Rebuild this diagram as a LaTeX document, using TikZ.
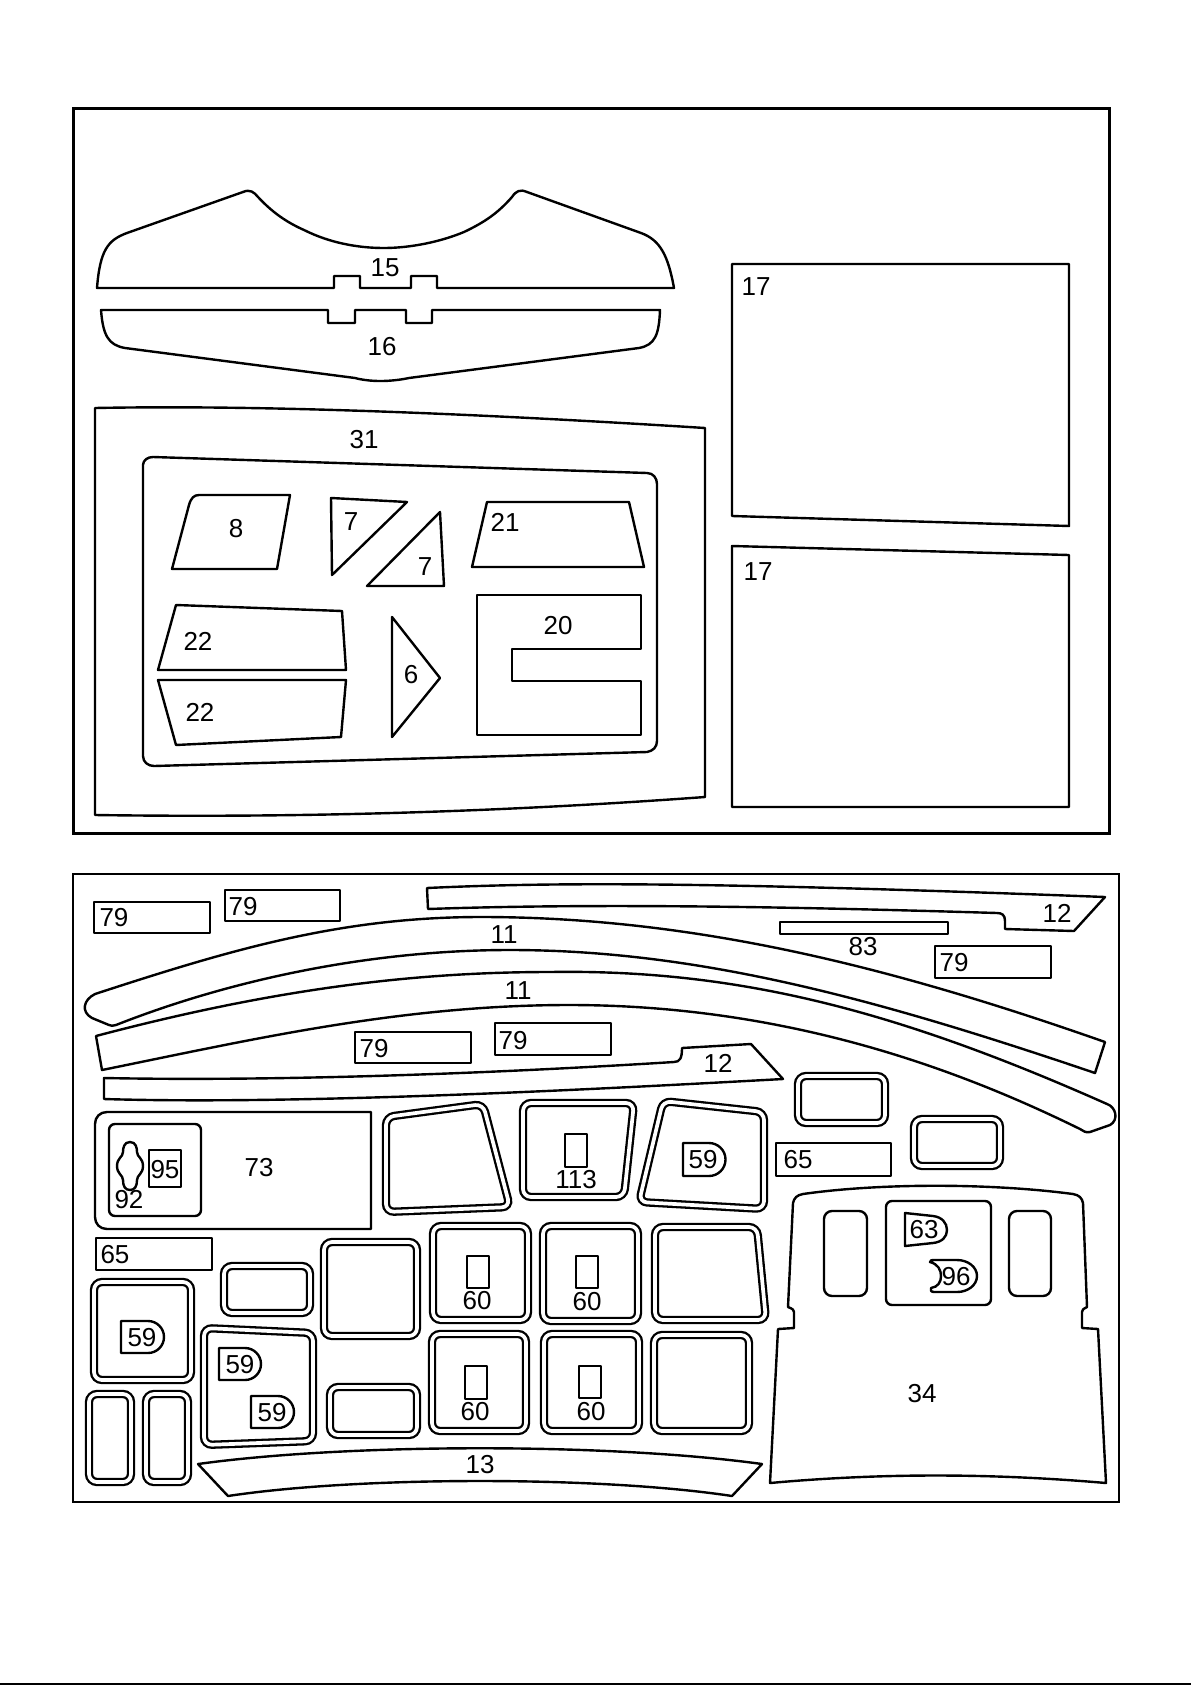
\documentclass[tikz,border=0pt]{standalone}
\usepackage{fontspec}
\setmainfont{Liberation Sans}
\begin{document}
\begin{tikzpicture}[x=0.5pt, y=-0.5pt,
    frameline/.style={draw=black, line width=1.5pt},
    partline/.style={draw=black, line width=1.2pt, line join=round},
    panel/.style={draw=black, line width=1.15pt, double=white, double distance=1.85pt, rounded corners=4pt},
    partlabel/.style={font=\fontsize{13}{13}\selectfont, inner sep=0pt, yshift=-0.5pt}]
    \useasboundingbox (0,0) rectangle (1191,1685);

    % Strip along the bottom edge
    \fill[black] (0,1683) rectangle (1191,1685);

    % Outer frames
    \draw[frameline] (73,109) rectangle (1109,833);
    \draw[frameline, line width=1.1pt] (73,874) rectangle (1119,1502);

    % Upper sheet: parts 15 and 16
    \draw[partline] (97,288) .. controls (100,250) and (108,240) .. (127,233) -- (243,192)
        .. controls (250,189) and (254,192) .. (258,197) .. controls (272,212) and (286,222) .. (304,230)
        .. controls (330,243) and (358,248) .. (384,248) .. controls (410,248) and (440,242) .. (464,232)
        .. controls (485,222) and (498,213) .. (512,197) .. controls (516,191) and (520,189) .. (527,192)
        -- (641,233) .. controls (660,240) and (668,255) .. (674,288)
        -- (437,288) -- (437,276) -- (411,276) -- (411,288) -- (360,288) -- (360,276) -- (334,276) -- (334,288) -- cycle;
    \node[partlabel] (part15) at (385,267) {15};
    \draw[partline] (101,310) -- (328,310) -- (328,323) -- (355,323) -- (355,310) -- (406,310) -- (406,323) -- (432,323) -- (432,310) -- (660,310)
        .. controls (659,335) and (655,345) .. (639,348) -- (409,378) .. controls (390,382) and (370,382) .. (355,378)
        -- (125,348) .. controls (108,345) and (103,335) .. (101,310) -- cycle;
    \node[partlabel] (part16) at (382,346) {16};

    % Parts 17
    \draw[partline] (732,264) -- (1069,264) -- (1069,526) -- (732,516) -- cycle;
    \node[partlabel] (part17a) at (756,286) {17};
    \draw[partline] (732,546) -- (1069,555) -- (1069,807) -- (732,807) -- cycle;
    \node[partlabel] (part17b) at (758,571) {17};

    % Part 31 with its cut-out
    \draw[partline] (95,408) .. controls (250,405) and (450,412) .. (705,428) -- (705,797)
        .. controls (500,812) and (300,818) .. (95,815) -- cycle;
    \node[partlabel] (part31) at (364,439) {31};
    \draw[partline] (153,457) -- (647,473) .. controls (653,473) and (657,478) .. (657,484) -- (657,741)
        .. controls (657,747) and (653,751) .. (647,752) -- (154,766) .. controls (148,766) and (143,762) .. (143,756)
        -- (143,465) .. controls (143,460) and (148,457) .. (153,457) -- cycle;

    % Parts inside 31
    \draw[partline] (199,495) -- (290,495) -- (277,569) -- (172,569) -- (189,505) .. controls (191,498) and (194,495) .. (199,495) -- cycle;
    \node[partlabel] (part8) at (236,528) {8};
    \draw[partline] (331,498) -- (407,502) -- (332,575) -- cycle;
    \node[partlabel] (part7a) at (351,521) {7};
    \draw[partline] (440,512) -- (444,586) -- (367,586) -- cycle;
    \node[partlabel] (part7b) at (425,566) {7};
    \draw[partline] (487,502) -- (629,502) -- (644,567) -- (472,567) -- cycle;
    \node[partlabel] (part21) at (505,521) {21};
    \draw[partline] (477,595) -- (641,595) -- (641,649) -- (512,649) -- (512,681) -- (641,681) -- (641,735) -- (477,735) -- cycle;
    \node[partlabel] (part20) at (558,625) {20};
    \draw[partline] (176,605) -- (342,611) -- (346,670) -- (158,670) -- cycle;
    \node[partlabel] (part22a) at (198,640) {22};
    \draw[partline] (158,680) -- (346,680) -- (341,737) -- (176,745) -- cycle;
    \node[partlabel] (part22b) at (200,711) {22};
    \draw[partline] (392,617) -- (440,678) -- (392,737) -- cycle;
    \node[partlabel] (part6) at (411,674) {6};

    % Lower sheet: small labels
    \draw[partline] (94,902) rectangle (210,933);
    \node[partlabel] (part79a) at (114,917) {79};
    \draw[partline] (225,890) rectangle (340,921);
    \node[partlabel] (part79b) at (243,906) {79};
    \draw[partline] (355,1032) rectangle (471,1063);
    \node[partlabel] (part79c) at (374,1048) {79};
    \draw[partline] (495,1023) rectangle (611,1055);
    \node[partlabel] (part79d) at (513,1040) {79};
    \draw[partline] (935,946) rectangle (1051,978);
    \node[partlabel] (part79e) at (954,962) {79};
    \draw[partline] (780,922) rectangle (948,934);
    \node[partlabel] (part83) at (863,946) {83};
    \draw[partline] (776,1143) rectangle (891,1176);
    \node[partlabel] (part65a) at (798,1159) {65};
    \draw[partline] (96,1238) rectangle (212,1270);
    \node[partlabel] (part65b) at (115,1254) {65};

    % Parts 12
    \draw[partline] (427,888) .. controls (557,882) and (711,882) .. (1105,897) -- (1074,931) -- (1005,929) -- (1005,921)
        .. controls (1005,915) and (1002,913) .. (997,913) .. controls (800,907) and (600,903) .. (428,909) -- cycle;
    \node[partlabel] (part12a) at (1057,912) {12};
    \draw[partline] (104,1078) .. controls (250,1081) and (450,1076) .. (674,1062) .. controls (680,1062) and (682,1058) .. (682,1048)
        -- (751,1044) -- (783,1079) .. controls (600,1089) and (300,1105) .. (104,1099) -- cycle;
    \node[partlabel] (part12b) at (718,1062) {12};

    % Parts 11
    \draw[partline] (1105,1042) .. controls (900,970) and (700,917) .. (481,917) .. controls (340,917) and (230,950) .. (95,994)
        .. controls (83,1000) and (81,1012) .. (92,1018) -- (109,1025) .. controls (111,1026) and (113,1026) .. (116,1025)
        .. controls (230,980) and (370,950) .. (510,950) .. controls (700,950) and (880,1000) .. (1095,1073) -- cycle;
    \node[partlabel] (part11a) at (504,934) {11};
    \draw[partline] (96,1036) .. controls (270,990) and (410,972) .. (550,972) .. controls (740,969) and (900,1012) .. (1107,1104)
        .. controls (1116,1107) and (1119,1120) .. (1110,1125) -- (1090,1132) .. controls (1086,1133) and (1083,1131) .. (1080,1129)
        .. controls (950,1065) and (780,1005) .. (569,1005) .. controls (400,1005) and (250,1040) .. (102,1070) -- cycle;
    \node[partlabel] (part11b) at (518,990) {11};

    % Part 13
    \draw[partline] (198,1464) .. controls (350,1443) and (610,1443) .. (762,1464) -- (732,1496)
        .. controls (600,1476) and (360,1476) .. (228,1496) -- cycle;
    \node[partlabel] (part13) at (480,1464) {13};

    % Part 73 with 92 and 95
    \draw[partline] (371,1112) -- (107,1112) .. controls (100,1112) and (95,1117) .. (95,1124) -- (95,1217)
        .. controls (95,1224) and (100,1229) .. (107,1229) -- (371,1229) -- cycle;
    \node[partlabel] (part73) at (259,1167) {73};
    \draw[partline, rounded corners=3pt] (109,1124) rectangle (201,1216);
    \draw[partline] (149,1150) rectangle (181,1187);
    \node[partlabel] (part95) at (165,1169) {95};
    \draw[partline] (130,1142) .. controls (124,1142) and (123,1148) .. (123,1152) .. controls (123,1157) and (117,1158) .. (117,1166)
        .. controls (117,1174) and (123,1175) .. (123,1180) .. controls (123,1186) and (125,1190) .. (130,1190)
        .. controls (135,1190) and (137,1186) .. (137,1180) .. controls (137,1175) and (143,1174) .. (143,1166)
        .. controls (143,1158) and (137,1157) .. (137,1152) .. controls (137,1148) and (136,1142) .. (130,1142) -- cycle;
    \node[partlabel] (part92) at (129,1199) {92};

    % Windows, top row
    \draw[panel] (386,1117) -- (483,1104) -- (510,1207) -- (386,1212) -- cycle;
    \draw[panel] (523,1103) -- (634,1103) -- (624,1197) -- (523,1197) -- cycle;
    \draw[partline] (565,1134) rectangle (587,1167);
    \node[partlabel] (part113) at (576,1179) {113};
    \draw[panel] (663,1101) -- (764,1112) -- (764,1209) -- (639,1202) -- cycle;
    \draw[partline] (683,1143) -- (709,1143) arc[start angle=-90, end angle=90, radius=16.5] -- (683,1176) -- cycle;
    \node[partlabel] (part59a) at (703,1159) {59};
    \draw[panel] (798,1076) rectangle (885,1123);
    \draw[panel] (914,1119) rectangle (1000,1166);

    % Windows, middle row
    \draw[panel] (433,1226) rectangle (528,1320);
    \draw[partline] (467,1256) rectangle (489,1288);
    \node[partlabel] (part60a) at (477,1300) {60};
    \draw[panel] (543,1226) rectangle (638,1321);
    \draw[partline] (576,1256) rectangle (598,1288);
    \node[partlabel] (part60b) at (587,1301) {60};
    \draw[panel] (655,1227) -- (757,1227) -- (766,1320) -- (655,1320) -- cycle;

    % Windows, bottom row
    \draw[panel] (432,1334) rectangle (526,1431);
    \draw[partline] (465,1366) rectangle (487,1399);
    \node[partlabel] (part60c) at (475,1411) {60};
    \draw[panel] (544,1334) rectangle (639,1431);
    \draw[partline] (579,1366) rectangle (601,1398);
    \node[partlabel] (part60d) at (591,1411) {60};
    \draw[panel] (654,1335) rectangle (749,1431);

    % Windows, left side
    \draw[panel] (94,1282) rectangle (191,1380);
    \draw[partline] (121,1321) -- (148,1321) arc[start angle=-90, end angle=90, radius=16] -- (121,1353) -- cycle;
    \node[partlabel] (part59b) at (142,1337) {59};
    \draw[panel] (224,1266) rectangle (310,1313);
    \draw[panel] (324,1242) rectangle (417,1336);
    \draw[panel] (204,1328) -- (313,1333) -- (313,1441) -- (204,1445) -- cycle;
    \draw[partline] (219,1348) -- (245,1348) arc[start angle=-90, end angle=90, radius=16] -- (219,1380) -- cycle;
    \node[partlabel] (part59c) at (240,1364) {59};
    \draw[partline] (251,1396) -- (278,1396) arc[start angle=-90, end angle=90, radius=16] -- (251,1428) -- cycle;
    \node[partlabel] (part59d) at (272,1412) {59};
    \draw[panel] (330,1387) rectangle (417,1435);
    \draw[panel] (89,1394) rectangle (131,1482);
    \draw[panel] (146,1394) rectangle (188,1482);

    % Part 34 with its openings
    \draw[partline] (803,1194) .. controls (880,1183) and (990,1183) .. (1073,1194) .. controls (1079,1195) and (1082,1198) .. (1083,1203)
        -- (1087,1307) .. controls (1083,1309) and (1082,1310) .. (1082,1312) -- (1082,1328) -- (1098,1329) -- (1106,1483)
        .. controls (990,1473) and (880,1473) .. (770,1483) -- (778,1329) -- (794,1328) -- (794,1312)
        .. controls (794,1310) and (793,1309) .. (788,1307) -- (793,1203) .. controls (794,1198) and (797,1195) .. (803,1194) -- cycle;
    \node[partlabel] (part34) at (922,1393) {34};
    \draw[partline, rounded corners=4pt] (824,1211) rectangle (867,1296);
    \draw[partline, rounded corners=4pt] (1009,1211) rectangle (1051,1296);
    \draw[partline, rounded corners=3pt] (886,1201) rectangle (991,1305);
    \draw[partline] (905,1213) -- (933,1216) .. controls (942,1217) and (947,1223) .. (947,1230) .. controls (947,1237) and (942,1242) .. (933,1243) -- (905,1246) -- cycle;
    \node[partlabel] (part63) at (924,1229) {63};
    \draw[partline] (930,1262) .. controls (930,1260) and (932,1260) .. (934,1260) -- (957,1260) .. controls (968,1260) and (977,1267) .. (977,1276) .. controls (977,1285) and (968,1292) .. (957,1292)
        -- (934,1292) .. controls (931,1292) and (930,1290) .. (931,1288) .. controls (938,1287) and (941,1282) .. (941,1276) .. controls (941,1270) and (938,1264) .. (930,1262) -- cycle;
    \node[partlabel] (part96) at (956,1276) {96};
\end{tikzpicture}
\end{document}
